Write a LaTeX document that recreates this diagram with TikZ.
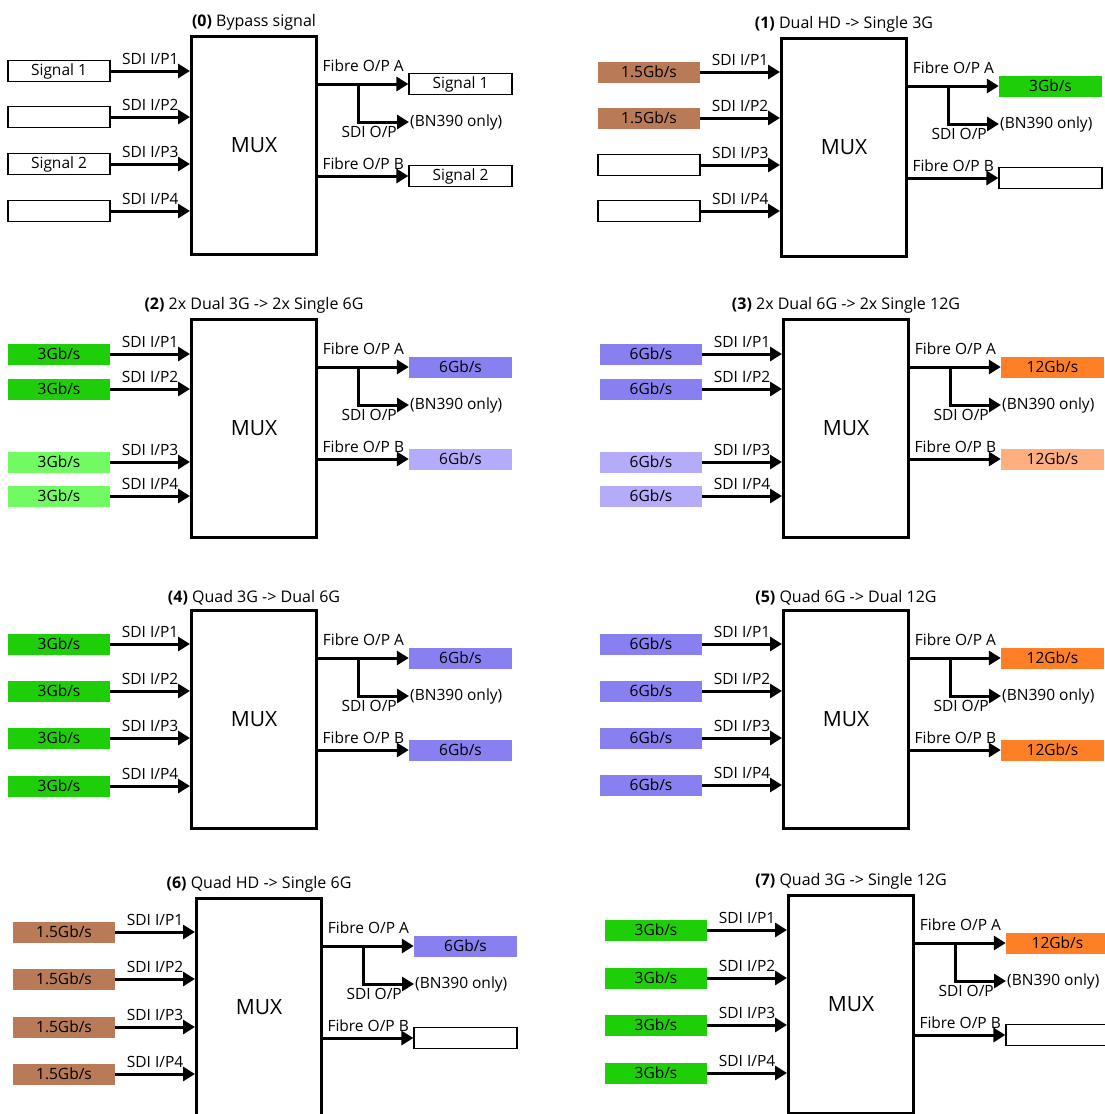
\documentclass[tikz,border=0pt]{standalone}
\usepackage{fontspec}
\setmainfont{Open Sans}
\usetikzlibrary{arrows.meta,positioning,calc}
\definecolor{hdbrown}{RGB}{185,122,87}
\definecolor{sgreen}{RGB}{30,206,8}
\definecolor{sgreenl}{RGB}{114,250,98}
\definecolor{sviolet}{RGB}{136,128,240}
\definecolor{svioletl}{RGB}{180,172,250}
\definecolor{sorange}{RGB}{255,127,39}
\definecolor{sorangel}{RGB}{255,174,128}

\tikzset{
  lab/.style={font=\fontsize{15.5}{18}\selectfont,inner sep=1pt},
  muxbox/.style={draw,line width=3pt,minimum width=125pt,minimum height=218pt,inner sep=0pt,font=\fontsize{21}{25}\selectfont},
  inbox/.style={lab,minimum width=102pt,minimum height=21pt,inner sep=0pt},
  outbox/.style={inbox,minimum width=103pt},
  sig/.style={line width=3pt,-{Triangle[length=12pt,width=14pt]}},
  blank/.style={fill=white,draw,line width=1.2pt},
  hd/.style={fill=hdbrown},
  gA/.style={fill=sgreen},
  gB/.style={fill=sgreenl},
  vA/.style={fill=sviolet},
  vB/.style={fill=svioletl},
  oA/.style={fill=sorange},
  oB/.style={fill=sorangel}
}

% one MUX panel: prefix, origin, title, inputs, out A style/text, out B style/text
\newcommand{\muxpanel}[8]{%
  \node[muxbox,anchor=north west] (#1mux) at (#2) {MUX};
  \node[lab,font=\fontsize{16}{19}\selectfont,above=3pt of #1mux] (#1title) {#3};
  \foreach \py/\pstyle/\ptext [count=\i] in {#4} {
    \node[inbox,\pstyle] (#1in\i) at ($(#1mux.north west)+(-131,\py)$) {\ptext};
    \draw[sig] (#1in\i.east) -- (#1in\i.east -| #1mux.west) node[midway,above=4pt,lab] {SDI I/P\i};
  }
  \node[outbox,#5] (#1outA) at ($(#1mux.north east)+(142.5,49)$) {#6};
  \node[outbox,#7] (#1outB) at ($(#1mux.north east)+(142.5,141)$) {#8};
  \draw[sig] (#1outA.west -| #1mux.east) -- (#1outA.west) node[midway,above=10pt,lab] {Fibre O/P A};
  \draw[sig] (#1outB.west -| #1mux.east) -- (#1outB.west) node[midway,above=4pt,lab] {Fibre O/P B};
  \coordinate (#1br) at ($(#1mux.north east)+(40,49)$);
  \node[lab,anchor=west] (#1bn) at ($(#1mux.north east)+(91,87)$) {(BN390 only)};
  \draw[sig] (#1br) |- (#1bn.west);
  \node[lab,anchor=north east] (#1sdo) at ($(#1bn.west)+(-11,3)$) {SDI O/P};
}

\begin{document}
\begin{tikzpicture}[x=1pt,y=-1pt]
\useasboundingbox (0,0) rectangle (1105,1114);
\clip (0,0) rectangle (1105,1114);
\fill[white] (0,0) rectangle (1105,1114);

\muxpanel{p0}{190,35}{\textbf{(0)} Bypass signal}
  {36/blank/Signal 1,82/blank/{},129/blank/Signal 2,176/blank/{}}
  {blank}{Signal 1}{blank}{Signal 2}
\muxpanel{p1}{780,37}{\textbf{(1)} Dual HD -> Single 3G}
  {35/hd/{1.5Gb/s},81/hd/{1.5Gb/s},128/blank/{},174/blank/{}}
  {gA}{3Gb/s}{blank}{}
\muxpanel{p2}{190,318}{\textbf{(2)} 2x Dual 3G -> 2x Single 6G}
  {36/gA/{3Gb/s},71/gA/{3Gb/s},144/gB/{3Gb/s},178/gB/{3Gb/s}}
  {vA}{6Gb/s}{vB}{6Gb/s}
\muxpanel{p3}{782,318}{\textbf{(3)} 2x Dual 6G -> 2x Single 12G}
  {36/vA/{6Gb/s},71/vA/{6Gb/s},144/vB/{6Gb/s},178/vB/{6Gb/s}}
  {oA}{12Gb/s}{oB}{12Gb/s}
\muxpanel{p4}{190,609}{\textbf{(4)} Quad 3G -> Dual 6G}
  {35/gA/{3Gb/s},82/gA/{3Gb/s},129/gA/{3Gb/s},177/gA/{3Gb/s}}
  {vA}{6Gb/s}{vA}{6Gb/s}
\muxpanel{p5}{782,609}{\textbf{(5)} Quad 6G -> Dual 12G}
  {35/vA/{6Gb/s},82/vA/{6Gb/s},129/vA/{6Gb/s},176/vA/{6Gb/s}}
  {oA}{12Gb/s}{oA}{12Gb/s}
\muxpanel{p6}{195,897}{\textbf{(6)} Quad HD -> Single 6G}
  {35/hd/{1.5Gb/s},82/hd/{1.5Gb/s},130/hd/{1.5Gb/s},177/hd/{1.5Gb/s}}
  {vA}{6Gb/s}{blank}{}
\muxpanel{p7}{787,894}{\textbf{(7)} Quad 3G -> Single 12G}
  {36/gA/{3Gb/s},84/gA/{3Gb/s},131/gA/{3Gb/s},179/gA/{3Gb/s}}
  {oA}{12Gb/s}{blank}{}
\end{tikzpicture}
\end{document}
